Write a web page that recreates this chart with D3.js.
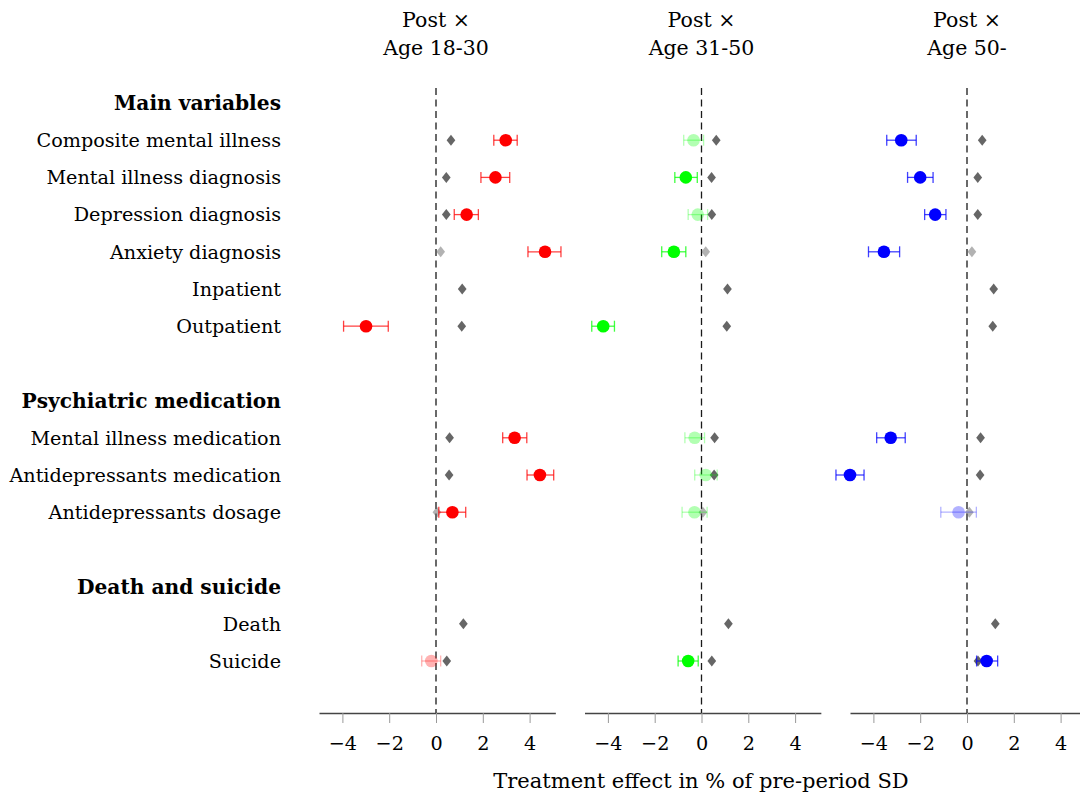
<!DOCTYPE html>
<html>
<head>
<meta charset="utf-8">
<script src="https://cdn.jsdelivr.net/npm/d3@7"></script>
<style>
  html, body { margin: 0; padding: 0; background: #fff; }
  svg { display: block; font-family: "DejaVu Serif", serif; }
</style>
</head>
<body>
<svg id="chart" width="1080" height="796"></svg>
<script>
// ---------------- DATA ----------------
const rows = [
  {id: "h1", label: "Main variables", header: true},
  {id: "r0", label: "Composite mental illness"},
  {id: "r1", label: "Mental illness diagnosis"},
  {id: "r2", label: "Depression diagnosis"},
  {id: "r3", label: "Anxiety diagnosis"},
  {id: "r4", label: "Inpatient"},
  {id: "r5", label: "Outpatient"},
  {id: "b1", label: ""},
  {id: "h2", label: "Psychiatric medication", header: true},
  {id: "r6", label: "Mental illness medication"},
  {id: "r7", label: "Antidepressants medication"},
  {id: "r8", label: "Antidepressants dosage"},
  {id: "b2", label: ""},
  {id: "h3", label: "Death and suicide", header: true},
  {id: "r9", label: "Death"},
  {id: "r10", label: "Suicide"}
];
const outcomeIds = ["r0","r1","r2","r3","r4","r5","r6","r7","r8","r9","r10"];

const panelTitles = [["Post \u00d7", "Age 18-30"], ["Post \u00d7", "Age 31-50"], ["Post \u00d7", "Age 50-"]];
const panelColors = ["#ff0000", "#00ff00", "#0000ff"];

// Panel 1: Age 18-30
const est1 = [2.98, 2.54, 1.31, 4.66, null, -2.99, 3.36, 4.44, 0.70, null, -0.20];
const lo1  = [2.47, 1.92, 0.78, 3.93, null, -3.95, 2.85, 3.89, 0.12, null, -0.61];
const hi1  = [3.47, 3.15, 1.81, 5.34, null, -2.04, 3.88, 5.03, 1.27, null, 0.20];
const sig1 = [1, 1, 1, 1, 0, 1, 1, 1, 1, 0, 0];
const ref1 = [0.64, 0.44, 0.44, 0.20, 1.12, 1.10, 0.58, 0.56, 0.04, 1.17, 0.46];
const refSig1 = [1, 1, 1, 0, 1, 1, 1, 1, 0, 1, 1];

// Panel 2: Age 31-50
const est2 = [-0.34, -0.67, -0.16, -1.18, null, -4.20, -0.29, 0.18, -0.30, null, -0.57];
const lo2  = [-0.76, -1.14, -0.57, -1.70, null, -4.69, -0.71, -0.29, -0.83, null, -1.00];
const hi2  = [0.09, -0.18, 0.26, -0.67, null, -3.72, 0.13, 0.67, 0.24, null, -0.14];
const sig2 = [0, 1, 0, 1, 0, 1, 0, 0, 0, 0, 1];
const ref2 = [0.63, 0.43, 0.44, 0.18, 1.11, 1.08, 0.56, 0.54, 0.06, 1.15, 0.44];
const refSig2 = [1, 1, 1, 0, 1, 1, 1, 1, 0, 1, 1];

// Panel 3: Age 50-
const est3 = [-2.81, -2.00, -1.36, -3.55, null, null, -3.26, -5.00, -0.36, null, 0.84];
const lo3  = [-3.43, -2.54, -1.81, -4.21, null, null, -3.86, -5.60, -1.12, null, 0.41];
const hi3  = [-2.17, -1.45, -0.90, -2.88, null, null, -2.64, -4.40, 0.40, null, 1.31];
const sig3 = [1, 1, 1, 1, 0, 0, 1, 1, 0, 0, 1];
const ref3 = [0.65, 0.46, 0.46, 0.21, 1.14, 1.10, 0.58, 0.56, 0.10, 1.21, 0.47];
const refSig3 = [1, 1, 1, 0, 1, 1, 1, 1, 0, 1, 1];

const xTicks = [-4, -2, 0, 2, 4];
const xTitle = "Treatment effect in % of pre-period SD";

const panels = [
  {est: est1, lo: lo1, hi: hi1, sig: sig1, ref: ref1, refSig: refSig1},
  {est: est2, lo: lo2, hi: hi2, sig: sig2, ref: ref2, refSig: refSig2},
  {est: est3, lo: lo3, hi: hi3, sig: sig3, ref: ref3, refSig: refSig3}
];

// ---------------- LAYOUT ----------------
const svg = d3.select("#chart");
const FS = 19.2;
const y = d3.scalePoint().domain(rows.map(r => r.id)).range([103, 661]);
const axisY = 713;
const labelRight = 281;

// Row labels
svg.append("g").selectAll("text").data(rows.filter(r => r.label)).join("text")
  .attr("x", labelRight).attr("y", d => y(d.id)).attr("dy", "0.35em")
  .attr("text-anchor", "end")
  .attr("font-size", d => d.header ? 20.2 : FS)
  .attr("font-weight", d => d.header ? "bold" : "normal")
  .attr("fill", "#000")
  .text(d => d.label);

panels.forEach((p, i) => {
  const zeroX = 436 + i * 265.5;
  const unit = 23.4;
  const x = d3.scaleLinear().domain([-5, 5.1]).range([zeroX - 5 * unit, zeroX + 5.1 * unit]);
  const g = svg.append("g");
  const color = panelColors[i];

  // titles
  g.append("text").attr("x", x(0)).attr("y", 27).attr("text-anchor", "middle")
    .attr("font-size", 20.5).text(panelTitles[i][0]);
  g.append("text").attr("x", x(0)).attr("y", 55).attr("text-anchor", "middle")
    .attr("font-size", 20.5).text(panelTitles[i][1]);

  // zero line
  g.append("line").attr("x1", x(0)).attr("x2", x(0)).attr("y1", 88).attr("y2", axisY)
    .attr("stroke", "#1a1a1a").attr("stroke-width", 1.3).attr("stroke-dasharray", "7,4.5");

  // axis
  const ax = g.append("g").attr("transform", `translate(0,${axisY})`)
    .call(d3.axisBottom(x).tickValues(xTicks).tickSize(10).tickSizeOuter(0).tickPadding(13.5));
  ax.select(".domain").attr("stroke", "#444").attr("stroke-width", 1.3);
  ax.selectAll(".tick line").attr("stroke", "#999").attr("stroke-width", 1);
  ax.selectAll(".tick text").attr("font-size", FS).attr("font-family", "DejaVu Serif").attr("fill", "#000");

  const data = outcomeIds.map((id, k) => ({
    id, est: p.est[k], lo: p.lo[k], hi: p.hi[k], sig: p.sig[k], ref: p.ref[k], refSig: p.refSig[k]
  }));

  // reference diamonds
  g.append("g").selectAll("path").data(data).join("path")
    .attr("d", d3.symbol().type(d3.symbolDiamond).size(35))
    .attr("transform", d => `translate(${x(d.ref)},${y(d.id)}) scale(1.37,1)`)
    .attr("fill", "#666")
    .attr("fill-opacity", d => d.refSig ? 1 : 0.5);

  const pts = data.filter(d => d.est !== null);
  const ci = g.append("g").selectAll("g").data(pts).join("g")
    .attr("stroke", color)
    .attr("stroke-opacity", d => d.sig ? 0.75 : 0.3)
    .attr("stroke-width", 1.3);
  ci.append("line").attr("x1", d => x(d.lo)).attr("x2", d => x(d.hi))
    .attr("y1", d => y(d.id)).attr("y2", d => y(d.id));
  ci.append("line").attr("x1", d => x(d.lo)).attr("x2", d => x(d.lo))
    .attr("y1", d => y(d.id) - 5.5).attr("y2", d => y(d.id) + 5.5);
  ci.append("line").attr("x1", d => x(d.hi)).attr("x2", d => x(d.hi))
    .attr("y1", d => y(d.id) - 5.5).attr("y2", d => y(d.id) + 5.5);

  g.append("g").selectAll("circle").data(pts).join("circle")
    .attr("cx", d => x(d.est)).attr("cy", d => y(d.id)).attr("r", 6.3)
    .attr("fill", color)
    .attr("fill-opacity", d => d.sig ? 1 : 0.3);
});

svg.append("text").attr("x", 701).attr("y", 788).attr("text-anchor", "middle")
  .attr("font-size", 21).text(xTitle);
</script>
</body>
</html>
